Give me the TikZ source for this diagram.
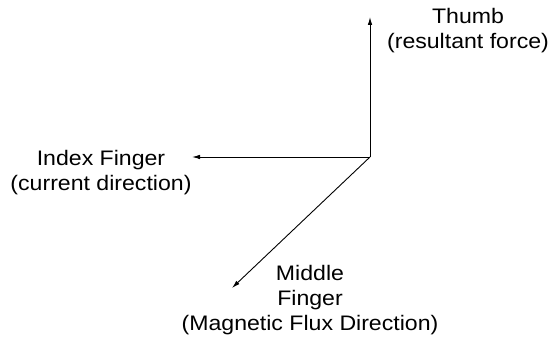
\documentclass[tikz,border=0pt]{standalone}
\usepackage{fontspec}
\setmainfont{Liberation Sans}[FakeStretch=1.1]
\usetikzlibrary{arrows.meta}

\begin{document}
\begin{tikzpicture}[x=1pt, y=1pt,
    finger/.style={black, line width=0.9pt, -{Latex[length=8pt,width=4.5pt]}},
    label/.style={align=center, inner sep=0pt, anchor=north, font=\fontsize{21}{25}\selectfont}]

    \useasboundingbox (0,0) rectangle (548,339);

    % the three fingers leave from one point
    \coordinate (origin) at (370,182);
    \coordinate (thumbtip) at (370,322);
    \coordinate (indextip) at (192,182);
    \coordinate (middletip) at (232,51);

    \draw[finger] (origin) -- (thumbtip);
    \draw[finger] (origin) -- (indextip);
    \draw[finger] (origin) -- (middletip);

    % labels
    \node[label] (thumb) at (468,331) {Thumb\\(resultant force)};
    \node[label] (index) at (101,189) {Index Finger\\(current direction)};
    \node[label] (middle) at (310,74) {Middle\\Finger\\(Magnetic Flux Direction)};

\end{tikzpicture}
\end{document}
